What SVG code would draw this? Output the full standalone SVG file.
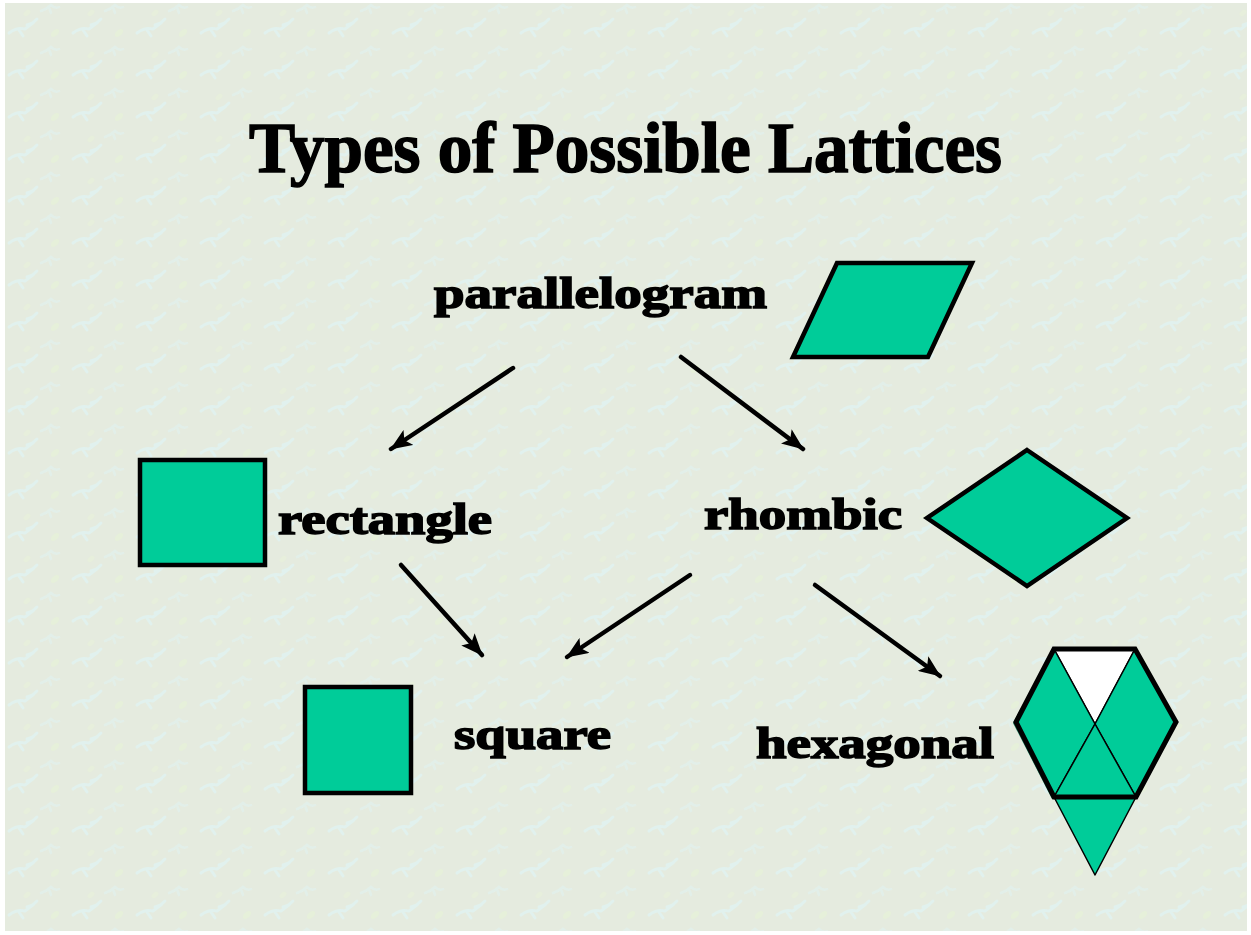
<svg xmlns="http://www.w3.org/2000/svg" width="1251" height="935" viewBox="0 0 1251 935">
  <style>
    .title { font-family: "Liberation Serif", "Times New Roman", serif; font-weight: bold; font-size: 72px; fill: #000; stroke: #000; stroke-width: 1.6; }
    .label { font-family: "Liberation Serif", "Times New Roman", serif; font-weight: bold; font-size: 44px; fill: #000; stroke: #000; stroke-width: 1.6; }
    .shape { fill: #00cc99; stroke: #000; stroke-width: 4.5; stroke-linejoin: miter; }
    .thin { fill: #00cc99; stroke: #000; stroke-width: 1.5; stroke-linejoin: round; }
    .conn { stroke: #000; stroke-width: 4.5; fill: none; stroke-linecap: round; }
  </style>
  <defs>
    <pattern id="bgtex" x="5" y="3" width="64" height="42" patternUnits="userSpaceOnUse">
      <rect width="64" height="42" fill="#e5ebdf"/>
      <path d="M4 30 q8 -6 16 -4 q6 -4 12 -10 M14 27 l4 6 M22 22 l6 -2" stroke="#e0f3f1" stroke-width="3" fill="none" stroke-linecap="round" opacity="0.8"/>
      <path d="M36 8 q6 -2 10 -6 q4 4 8 2 M44 4 l2 6" stroke="#e1f2ef" stroke-width="2.5" fill="none" stroke-linecap="round" opacity="0.7"/>
      <ellipse cx="50" cy="30" rx="5" ry="3" fill="#e6f0da" transform="rotate(-40 50 30)"/>
      <ellipse cx="22" cy="10" rx="4" ry="2.5" fill="#e7efdc" transform="rotate(-40 22 10)"/>
    </pattern>
    <marker id="arrow" markerUnits="userSpaceOnUse" markerWidth="22" markerHeight="18" viewBox="0 0 22 18" refX="21" refY="9" orient="auto">
      <path d="M0 0 L22 9 L0 18 L5 9 Z" fill="#000"/>
    </marker>
  </defs>

  <rect width="1251" height="935" fill="#ffffff"/>
  <rect x="5" y="3" width="1242" height="928" fill="url(#bgtex)"/>

  <text class="title" x="249" y="172" textLength="753" lengthAdjust="spacingAndGlyphs">Types of Possible Lattices</text>

  <g id="parallelogram">
    <text class="label" x="434" y="308" textLength="333" lengthAdjust="spacingAndGlyphs">parallelogram</text>
    <polygon class="shape" points="837,263 972,263 928,357 793,357"/>
  </g>

  <g id="rectangle">
    <rect class="shape" x="140" y="460" width="125" height="105"/>
    <text class="label" x="278" y="534" textLength="214" lengthAdjust="spacingAndGlyphs">rectangle</text>
  </g>

  <g id="rhombic">
    <text class="label" x="704" y="529" textLength="198" lengthAdjust="spacingAndGlyphs">rhombic</text>
    <polygon class="shape" points="1027,450 1127,518 1027,586 927,518"/>
  </g>

  <g id="square">
    <rect class="shape" x="305" y="687" width="106" height="106"/>
    <text class="label" x="454" y="749" textLength="157" lengthAdjust="spacingAndGlyphs">square</text>
  </g>

  <g id="hexagonal">
    <text class="label" x="756" y="758" textLength="238" lengthAdjust="spacingAndGlyphs">hexagonal</text>
    <polygon points="1054,649 1135,649 1095,724" fill="#ffffff" stroke="#000" stroke-width="1.5"/>
    <polygon points="1052,651 1093,726 1052,799 1013,723" fill="#1a7a5c"/>
    <polygon class="thin" points="1054,649 1095,724 1054,797 1016,722"/>
    <polygon class="thin" points="1135,649 1176,722 1136,797 1095,724"/>
    <polygon class="thin" points="1095,724 1136,797 1054,797"/>
    <polygon class="thin" points="1054,797 1136,797 1095,875"/>
    <polygon points="1054,649 1135,649 1176,722 1136,797 1054,797 1016,722" fill="none" stroke="#000" stroke-width="5" stroke-linejoin="miter"/>
  </g>

  <g id="connectors">
    <line class="conn" x1="513" y1="368" x2="391" y2="449" marker-end="url(#arrow)"/>
    <line class="conn" x1="681" y1="357" x2="803" y2="449" marker-end="url(#arrow)"/>
    <line class="conn" x1="401" y1="565" x2="482" y2="655" marker-end="url(#arrow)"/>
    <line class="conn" x1="690" y1="575" x2="567" y2="657" marker-end="url(#arrow)"/>
    <line class="conn" x1="815" y1="585" x2="940" y2="676" marker-end="url(#arrow)"/>
  </g>
</svg>
